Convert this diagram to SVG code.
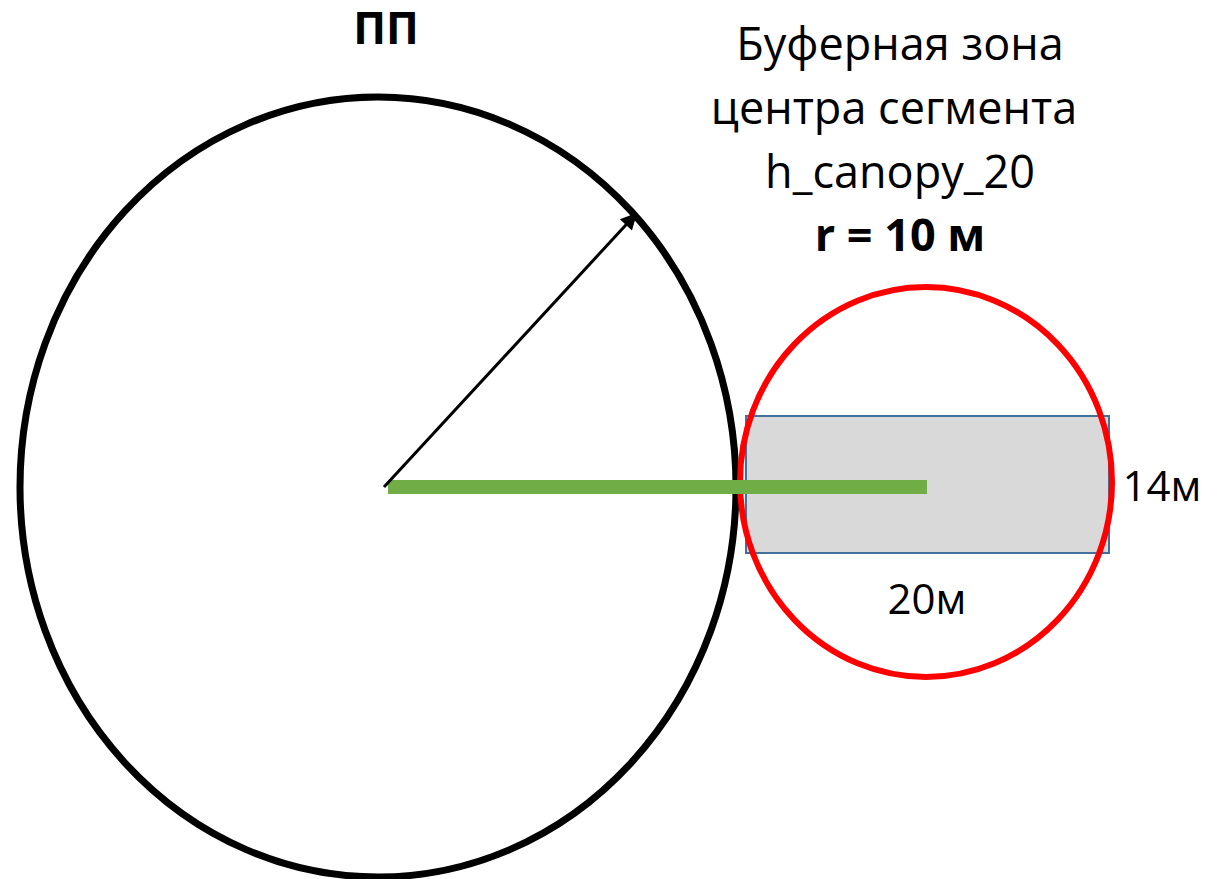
<svg xmlns="http://www.w3.org/2000/svg" width="1228" height="879" viewBox="0 0 1228 879">
<style>
text{font-family:"Open Sans","Liberation Sans",sans-serif;fill:#000}
.lbl{font-size:45px}
.dim{font-size:42px}
.b{font-weight:bold}
</style>
<defs>
<marker id="ah" viewBox="0 0 10 10" refX="9" refY="5" markerWidth="6.5" markerHeight="5.5" orient="auto" markerUnits="strokeWidth">
<path d="M0,0 L10,5 L0,10 z" fill="#000"/>
</marker>
</defs>
<rect width="1228" height="879" fill="#fff"/>
<g id="pp">
<ellipse cx="378" cy="487" rx="358" ry="390" fill="none" stroke="#000" stroke-width="7"/>
<text x="386" y="44" text-anchor="middle" class="b" font-size="44">ПП</text>
</g>
<g id="segment">
<rect x="746" y="416" width="363" height="137" fill="#d9d9d9" stroke="#41719c" stroke-width="2"/>
<text x="1162" y="501" text-anchor="middle" class="dim">14м</text>
<text x="927" y="614" text-anchor="middle" class="dim">20м</text>
</g>
<g id="buffer">
<ellipse cx="926" cy="482" rx="186" ry="195" fill="none" stroke="#ff0000" stroke-width="6"/>
<text x="900" y="60" text-anchor="middle" class="lbl">Буферная зона</text>
<text x="894" y="124" text-anchor="middle" class="lbl">центра сегмента</text>
<text x="900" y="188" text-anchor="middle" class="lbl">h_canopy_20</text>
<text x="900" y="251" text-anchor="middle" class="lbl b">r = 10 м</text>
</g>
<g id="connectors">
<line x1="388" y1="487" x2="927" y2="487" stroke="#70ad47" stroke-width="14"/>
<line x1="384" y1="487" x2="636" y2="214" stroke="#000" stroke-width="3" marker-end="url(#ah)"/>
</g>
</svg>
